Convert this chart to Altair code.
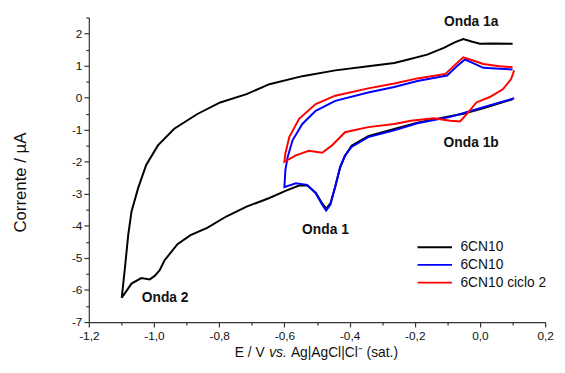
import altair as alt
import pandas as pd

# ---- data ----
series_keys = ["s1", "s2", "s3"]
series_names = ["6CN10", "6CN10", "6CN10 ciclo 2"]
series_colors = ["#000000", "#0000ff", "#ff0000"]

# black: full scan 0.1 -> -1.1 -> 0.1
black_E = [0.10, 0.01, -0.051, -0.111, -0.192, -0.263, -0.343, -0.394, -0.414, -0.429,
           -0.444, -0.459, -0.472, -0.484, -0.504, -0.530, -0.555, -0.595, -0.646, -0.716,
           -0.777, -0.837, -0.888, -0.928, -0.968, -0.983, -0.998, -1.013, -1.039, -1.069, -1.099,
           -1.089, -1.079, -1.069, -1.049, -1.024, -0.988, -0.938, -0.867, -0.797, -0.716,
           -0.646, -0.545, -0.444, -0.343, -0.263, -0.232, -0.162, -0.111, -0.076, -0.051,
           -0.026, 0.0, 0.04, 0.10]
black_I = [-0.05, -0.33, -0.50, -0.62, -0.78, -0.98, -1.20, -1.50, -1.82, -2.18,
           -2.78, -3.30, -3.46, -3.30, -2.96, -2.74, -2.74, -2.90, -3.13, -3.40,
           -3.70, -4.06, -4.29, -4.57, -5.08, -5.39, -5.56, -5.67, -5.63, -5.80, -6.24,
           -5.29, -4.27, -3.55, -2.83, -2.10, -1.49, -0.97, -0.51, -0.15, 0.11,
           0.42, 0.67, 0.85, 0.98, 1.08, 1.16, 1.34, 1.55, 1.73, 1.83,
           1.75, 1.68, 1.69, 1.68]

# blue: 0.1 -> -0.6 -> 0.1
blue_E = [0.105, 0.01, -0.091, -0.192, -0.263, -0.343, -0.394, -0.414, -0.429, -0.444,
          -0.459, -0.472, -0.484, -0.504, -0.530, -0.565, -0.600,
          -0.597, -0.590, -0.575, -0.545, -0.504, -0.444, -0.343, -0.263, -0.192,
          -0.101, -0.071, -0.046, -0.016, 0.01, 0.06, 0.10]
blue_I = [-0.02, -0.30, -0.60, -0.80, -1.02, -1.23, -1.54, -1.80, -2.16, -2.77,
          -3.34, -3.52, -3.34, -2.98, -2.72, -2.67, -2.79,
          -2.26, -1.85, -1.33, -0.82, -0.41, -0.10, 0.16, 0.33, 0.52,
          0.69, 0.98, 1.19, 1.05, 0.93, 0.90, 0.88]

# red: cycle 2
red_E = [0.105, 0.095, 0.07, 0.03, -0.011, -0.036, -0.061, -0.091, -0.142, -0.212,
         -0.263, -0.343, -0.414, -0.454, -0.484, -0.525, -0.565, -0.600,
         -0.597, -0.585, -0.555, -0.504, -0.444, -0.343, -0.263, -0.192, -0.106,
         -0.076, -0.051, -0.021, 0.01, 0.06, 0.10]
red_I = [0.85, 0.57, 0.26, 0.02, -0.15, -0.46, -0.74, -0.72, -0.64, -0.72,
         -0.82, -0.92, -1.08, -1.49, -1.72, -1.66, -1.80, -2.00,
         -1.74, -1.23, -0.66, -0.20, 0.06, 0.29, 0.44, 0.60, 0.74,
         1.03, 1.26, 1.16, 1.05, 0.98, 0.95]

ann_text = ["Onda 1a", "Onda 1b", "Onda 1", "Onda 2"]
ann_E = [-0.027, -0.027, -0.474, -0.966]
ann_I = [2.37, -1.43, -4.14, -6.24]

x_ticks = [-1.2, -1.1, -1.0, -0.9, -0.8, -0.7, -0.6, -0.5, -0.4, -0.3, -0.2, -0.1, 0.0, 0.1, 0.2]
y_ticks = [-7, -6.5, -6, -5.5, -5, -4.5, -4, -3.5, -3, -2.5, -2, -1.5, -1, -0.5,
           0, 0.5, 1, 1.5, 2, 2.5]

# ---- build table ----
rows = []
for key, xs, ys in zip(series_keys, [black_E, blue_E, red_E], [black_I, blue_I, red_I]):
    for i, (e, c) in enumerate(zip(xs, ys)):
        rows.append({"series": key, "E": e, "I": c, "idx": i})
df = pd.DataFrame(rows)
ann_df = pd.DataFrame({"t": ann_text, "E": ann_E, "I": ann_I})

label_expr = " : ".join(
    [f"datum.label == '{k}' ? '{n}'" for k, n in zip(series_keys[:-1], series_names[:-1])]
) + f" : '{series_names[-1]}'"

FONT = "Liberation Sans"

x_scale = alt.Scale(domain=[-1.2, 0.2], nice=False, zero=False)
y_scale = alt.Scale(domain=[-7, 2.5], nice=False, zero=False)

x_axis = alt.Axis(
    values=x_ticks,
    title=None,
    labelExpr="abs(round(datum.value*10)) % 2 == 0 ? replace(replace(format(datum.value, '.1f'), '.', ','), '\u2212', '-') : ''",
    tickSize={"condition": {"test": "abs(round(datum.value*10)) % 2 == 0", "value": 5}, "value": 3},
    labelPadding=4,
    labelFlush=False,
    labelOverlap=False,
)
y_axis = alt.Axis(
    values=y_ticks,
    title="Corrente / \u00b5A",
    titleFontSize=17,
    titleFontWeight="normal",
    titleFont=FONT,
    titleColor="#111",
    titleX=-64,
    titleY=167,
    titleBaseline="alphabetic",
    labelExpr="datum.value % 1 == 0 ? replace(format(datum.value, 'd'), '\u2212', '-') : ''",
    tickSize={"condition": {"test": "datum.value % 1 == 0", "value": 5}, "value": 3},
    labelPadding=2,
    labelOverlap=False,
)

lines = alt.Chart(df).mark_line(strokeWidth=2).encode(
    x=alt.X("E:Q", scale=x_scale, axis=x_axis),
    y=alt.Y("I:Q", scale=y_scale, axis=y_axis),
    color=alt.Color(
        "series:N",
        scale=alt.Scale(domain=series_keys, range=series_colors),
        legend=alt.Legend(
            title=None,
            orient="none",
            legendX=344,
            legendY=226,
            symbolType="M-3,0H3",
            symbolStrokeWidth=2,
            symbolSize=136,
            labelExpr=label_expr,
            labelFont=FONT,
            labelFontSize=14,
            labelColor="#111",
            labelOffset=19,
            rowPadding=4,
            padding=0,
        ),
    ),
    order="idx:Q",
    detail="series:N",
)

ann = alt.Chart(ann_df).mark_text(
    font=FONT, fontSize=14, fontWeight="bold", color="#111", align="center", baseline="middle"
).encode(
    x=alt.X("E:Q", scale=x_scale, axis=x_axis),
    y=alt.Y("I:Q", scale=y_scale, axis=y_axis),
    text="t:N",
)

title_parts = ["E / V", "vs.", "Ag|AgCl|Cl\u207b (sat.)"]
t1 = alt.Chart(pd.DataFrame({"t": [title_parts[0]]})).mark_text(
    font=FONT, fontSize=14, color="#111", align="left", baseline="middle"
).encode(x=alt.value(148), y=alt.value(340), text="t:N")
t2 = alt.Chart(pd.DataFrame({"t": [title_parts[1]]})).mark_text(
    font=FONT, fontSize=14, fontStyle="italic", color="#111", align="left", baseline="middle"
).encode(x=alt.value(183), y=alt.value(340), text="t:N")
t3 = alt.Chart(pd.DataFrame({"t": [title_parts[2]]})).mark_text(
    font=FONT, fontSize=14, color="#111", align="left", baseline="middle"
).encode(x=alt.value(205), y=alt.value(340), text="t:N")

chart = alt.layer(lines, ann, t1, t2, t3).properties(
    width=463,
    height=309,
    autosize=alt.AutoSizeParams(type="none"),
    padding={"left": 82, "top": 7, "right": 12, "bottom": 45},
).configure_view(stroke=None).configure_axis(
    domainColor="#333",
    tickColor="#333",
    domainWidth=1.2,
    tickWidth=1.2,
    labelFont=FONT,
    labelFontSize=12,
    labelColor="#111",
    labelOverlap=False,
    grid=False,
)

chart.save("out.html", embed_options={"renderer": "svg", "actions": False})
